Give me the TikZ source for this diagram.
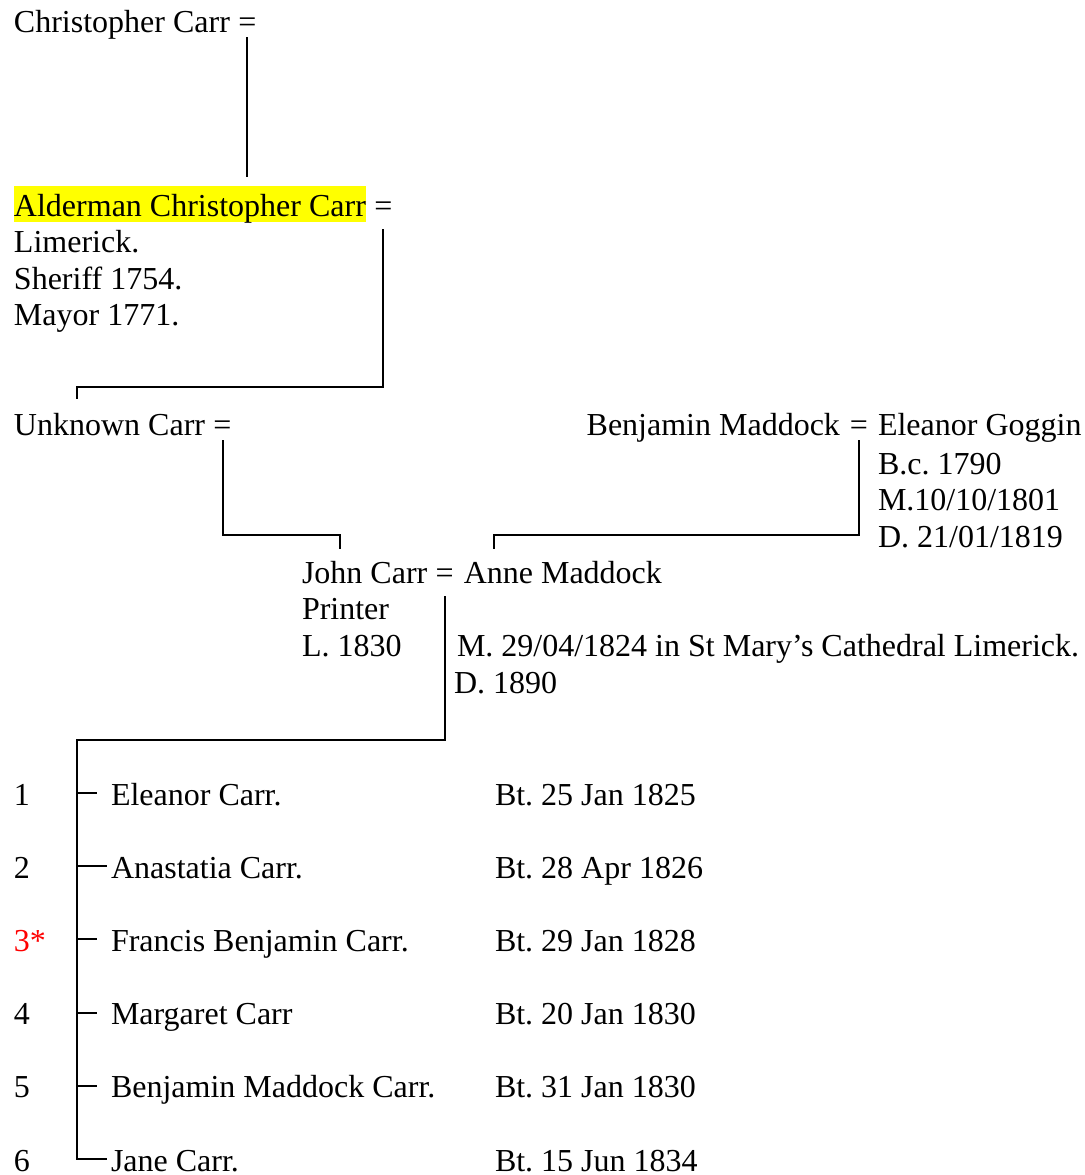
\documentclass[tikz,border=0pt]{standalone}
\usepackage{fontspec}
\setmainfont{Liberation Serif}
\frenchspacing
\definecolor{hilite}{RGB}{255,255,0}
\definecolor{starred}{RGB}{255,0,0}
\tikzset{every picture/.style={line width=0.75pt}}
\tikzset{
  txt/.style={anchor=base west, inner sep=0pt, text height=11.25pt, text depth=2.25pt, font=\fontsize{12}{14}\selectfont},
  eq/.style={txt, text depth=0pt, inner ysep=1.5pt}
}

\begin{document}
\begin{tikzpicture}[x=0.375pt,y=0.375pt,yscale=-1,xscale=1]
\useasboundingbox (0,0) rectangle (1085,1175);

% Text Node
\draw (13,32) node [txt] (cc) {Christopher Carr};
\draw ([xshift=2.4pt]cc.base east) node [eq] (cceq) {=};
% Text Node
\draw (13,216) node [txt, fill=hilite] (acc) {Alderman Christopher Carr};
\draw ([xshift=2.4pt]acc.base east) node [eq] (acceq) {=};
\draw (13,252) node [txt] (lim) {Limerick.};
\draw (13,289) node [txt] (sher) {Sheriff 1754.};
\draw (13,325) node [txt] (mayor) {Mayor 1771.};
% Text Node
\draw (13,435) node [txt] (uc) {Unknown Carr};
\draw ([xshift=2.4pt]uc.base east) node [eq] (uceq) {=};
% Text Node
\draw (877,435) node [txt] (eg) {Eleanor Goggin};
\draw ([xshift=-3pt]eg.base west) node [eq, anchor=base east] (bmeq) {=};
\draw ([xshift=-3pt]bmeq.base west) node [txt, anchor=base east] (bm) {Benjamin Maddock};
\draw (877,474) node [txt] (egb) {B.c. 1790};
\draw (877,510) node [txt] (egm) {M.10/10/1801};
\draw (877,547) node [txt] (egd) {D. 21/01/1819};
% Text Node
\draw (301,583) node [txt] (jc) {John Carr};
\draw ([xshift=2.4pt]jc.base east) node [eq] (jceq) {=};
\draw ([xshift=3pt]jceq.base east) node [txt] (am) {Anne Maddock};
\draw (301,619) node [txt] (jcp) {Printer};
\draw (301,656) node [txt] (jcl) {L. 1830};
\draw (456,656) node [txt] (amm) {M. 29/04/1824 in St Mary’s Cathedral Limerick.};
\draw (453,693) node [txt] (amd) {D. 1890};

% bends
\coordinate (k1) at (77,387);
\coordinate (k2) at (340,535);
\coordinate (k3) at (494,535);
\coordinate (k4) at (77,740);

% children
\foreach \num/\who/\bt/\gap [count=\i] in {1/Eleanor Carr./25 Jan 1825/5,
    2/Anastatia Carr./28 Apr 1826/1,
    \textcolor{starred}{3*}/Francis Benjamin Carr./29 Jan 1828/5,
    4/Margaret Carr/20 Jan 1830/5,
    5/Benjamin Maddock Carr./31 Jan 1830/5,
    6/Jane Carr./15 Jun 1834/1} {
  \draw ({13},{805+73.2*(\i-1)}) node [txt] (no\i) {\num};
  \draw ({110},{805+73.2*(\i-1)}) node [txt] (ch\i) {\who};
  \draw ({494},{805+73.2*(\i-1)}) node [txt] (bt\i) {Bt. \bt};
  \draw [shorten >=\gap pt] (k4 |- ch\i.west) -- (ch\i.west);
}

%Straight Lines
\draw [shorten >=3pt] (cceq.south) -- (cceq.south |- acc.north);
\draw [shorten <=3pt, shorten >=2pt] (acceq.south) |- (k1) -- (k1 |- uc.north);
\draw [shorten >=1pt] (uceq.south) |- (k2) -- (k2 |- jc.north);
\draw [shorten >=1pt] (bmeq.south) |- (k3) -- (k3 |- am.north);
\draw [shorten <=3pt] (jceq.south) |- (k4) |- ([xshift=-1pt]ch6.west);

\end{tikzpicture}
\end{document}
